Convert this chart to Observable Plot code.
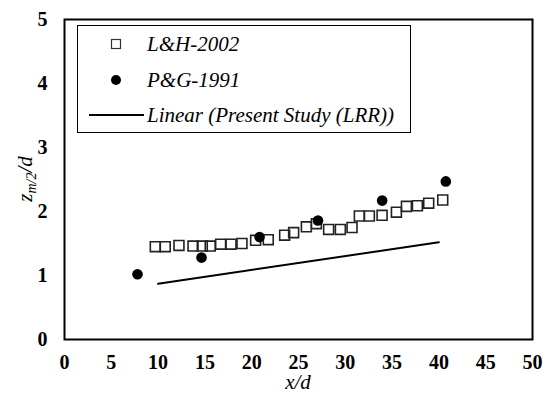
<!DOCTYPE html>
<html>
<head>
<meta charset="utf-8">
<script src="https://cdn.jsdelivr.net/npm/d3@7"></script>
<script src="https://cdn.jsdelivr.net/npm/@observablehq/plot@0.6"></script>
</head>
<body style="margin:0;">
<div id="wrap" style="position:relative;width:548px;height:396px;font-family:serif;">
  <div id="legend" style="position:absolute;left:77px;top:25px;width:334px;height:108px;border:1.5px solid #000;background:#fff;box-sizing:border-box;font-family:serif;z-index:2;">
    <div style="position:absolute;left:0;top:8px;font-style:italic;font-size:21px;line-height:1;color:#000;font-family:serif;">
      <svg width="12" height="12" style="position:absolute;left:32px;top:4px;"><rect x="1.5" y="1.5" width="9" height="9" fill="none" stroke="#333" stroke-width="1.2"/></svg>
      <span id="lg0" style="position:absolute;left:69px;top:0;white-space:nowrap;">L&amp;H-2002</span>
    </div>
    <div style="position:absolute;left:0;top:44px;font-style:italic;font-size:21px;line-height:1;color:#000;font-family:serif;">
      <svg width="12" height="12" style="position:absolute;left:32px;top:4px;"><circle cx="6" cy="6" r="5" fill="#000"/></svg>
      <span id="lg1" style="position:absolute;left:69px;top:0;white-space:nowrap;">P&amp;G-1991</span>
    </div>
    <div style="position:absolute;left:0;top:79px;font-style:italic;font-size:21px;line-height:1;color:#000;font-family:serif;">
      <svg width="56" height="12" style="position:absolute;left:11px;top:4px;"><line x1="0" y1="6" x2="55" y2="6" stroke="#000" stroke-width="2"/></svg>
      <span id="lg2" style="position:absolute;left:69px;top:0;white-space:nowrap;">Linear (Present Study (LRR))</span>
    </div>
  </div>
  <div id="xtitle" style="position:absolute;left:298px;top:372px;transform:translateX(-50%);font-style:italic;font-size:21px;line-height:1;white-space:nowrap;font-family:serif;z-index:2;">x/d</div>
  <div id="ytitle" style="position:absolute;left:25px;top:179px;transform:translate(-50%,-50%) rotate(-90deg);font-style:italic;font-size:21px;line-height:1;white-space:nowrap;font-family:serif;z-index:2;">z<span style="font-size:14px;position:relative;top:4px;">m/2</span>/d</div>
</div>
<script>
// L&H-2002 (open squares)
const lhX = [9.70, 10.76, 12.23, 13.73, 14.72, 15.57, 16.68, 17.79, 18.96, 20.42, 21.77, 23.52, 24.48, 25.84, 26.91,
             28.22, 29.47, 30.72, 31.50, 32.57, 33.93, 35.46, 36.53, 37.70, 38.91, 40.41];
const lhY = [1.45, 1.45, 1.47, 1.46, 1.46, 1.46, 1.49, 1.49, 1.50, 1.55, 1.56, 1.63, 1.67, 1.76, 1.81,
             1.72, 1.72, 1.75, 1.93, 1.93, 1.94, 1.99, 2.08, 2.09, 2.13, 2.18];
// P&G-1991 (filled circles)
const pgX = [7.80, 14.64, 20.84, 27.08, 33.94, 40.74];
const pgY = [1.02, 1.28, 1.60, 1.86, 2.17, 2.47];
// Linear (Present Study (LRR)) trend line
const lrrX = [10, 40];
const lrrY = [0.87, 1.52];
// Axis ticks
const xTicks = [0, 5, 10, 15, 20, 25, 30, 35, 40, 45, 50];
const yTicks = [0, 1, 2, 3, 4, 5];
const seriesNames = ["L&H-2002", "P&G-1991", "Linear (Present Study (LRR))"];

const lh = lhX.map((x, i) => ({x, y: lhY[i]}));
const pg = pgX.map((x, i) => ({x, y: pgY[i]}));
const lrr = lrrX.map((x, i) => ({x, y: lrrY[i]}));

const chart = Plot.plot({
  width: 548,
  height: 396,
  marginLeft: 64,
  marginRight: 16,
  marginTop: 19,
  marginBottom: 57,
  style: "font-family:serif;font-size:20px;font-weight:bold;color:#000;background:#fff;",
  x: { domain: [0, 50], ticks: xTicks, tickFormat: d3.format("d"), tickSize: 0, tickPadding: 15, label: null },
  y: { domain: [0, 5], ticks: yTicks, tickFormat: d3.format("d"), tickSize: 0, tickPadding: 17, label: null },
  marks: [
    Plot.line(lrr, { x: "x", y: "y", stroke: "#000", strokeWidth: 2 }),
    Plot.dot(lh, { x: "x", y: "y", symbol: "square", r: 5.6, fill: "none", stroke: "#222", strokeWidth: 1.6 }),
    Plot.dot(pg, { x: "x", y: "y", symbol: "circle", r: 5.3, fill: "#000", stroke: "none" }),
    Plot.frame({ stroke: "#000", strokeWidth: 2 })
  ]
});
chart.style.position = "absolute";
chart.style.left = "0";
chart.style.top = "0";

const wrap = document.getElementById("wrap");
wrap.insertBefore(chart, wrap.firstChild);
d3.select(chart).selectAll("[font-family]").attr("font-family", "serif");
</script>
</body>
</html>
